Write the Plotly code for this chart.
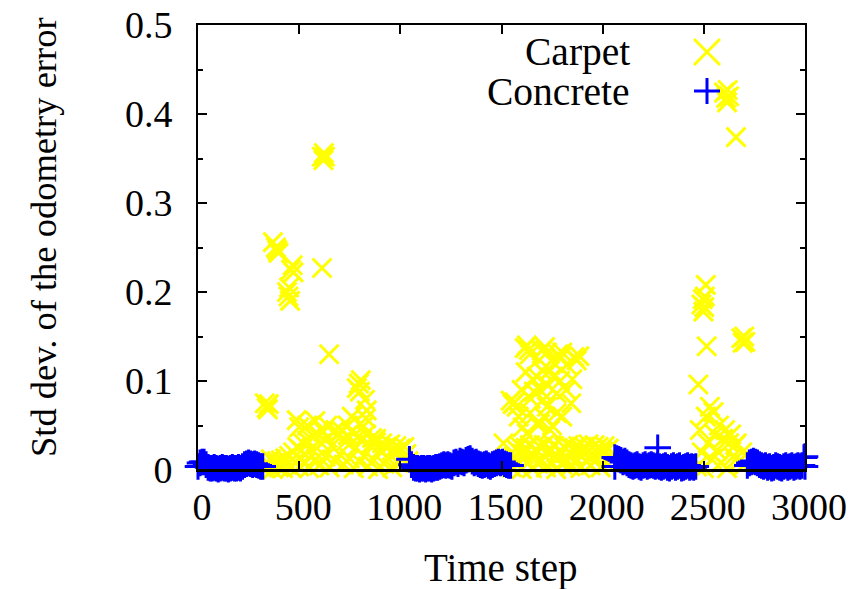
import plotly.graph_objects as go

# ---------------- data ----------------
# Concrete (blue +): time step and std dev of the odometry error
concrete_t1 = [0, 10, 20, 30, 40, 50, 60, 70, 80, 90, 100, 110, 120, 130, 140, 150, 160, 170, 180, 190,
               200, 210, 220, 230, 240, 250, 260, 270, 280, 290, 300, 310, 320]
concrete_v1 = [0.004, 0.008, 0.009, 0.009, 0.006, 0.003, 0.002, 0.002, 0.003, 0.002, 0.001, 0.002, 0.003, 0.002, 0.002, 0.001, 0.002, 0.003, 0.002, 0.002,
               0.003, 0.002, 0.004, 0.006, 0.007, 0.008, 0.007, 0.006, 0.007, 0.006, 0.005, 0.004, 0.004]

concrete_t2 = [1045, 1055, 1065, 1075, 1085, 1095, 1105, 1115, 1125, 1135, 1145, 1155, 1165, 1175, 1185, 1195, 1205, 1215, 1225, 1235,
               1245, 1255, 1265, 1275, 1285, 1295, 1305, 1315, 1325, 1335, 1345, 1355, 1365, 1375, 1385, 1395, 1405, 1415, 1425, 1435,
               1445, 1455, 1465, 1475, 1485, 1495, 1505, 1515, 1525, 1535, 1545]
concrete_v2 = [0.012, 0.006, 0.003, 0.002, 0.002, 0.001, 0.002, 0.002, 0.001, 0.002, 0.002, 0.001, 0.002, 0.003, 0.003, 0.004, 0.005, 0.006, 0.005, 0.006,
               0.005, 0.004, 0.008, 0.009, 0.007, 0.010, 0.009, 0.008, 0.011, 0.012, 0.013, 0.010, 0.008, 0.009, 0.007, 0.006, 0.005, 0.006, 0.007, 0.005,
               0.004, 0.006, 0.007, 0.008, 0.009, 0.008, 0.009, 0.007, 0.006, 0.005, 0.005]

concrete_t3 = [2060, 2060, 2070, 2080, 2090, 2100, 2110, 2120, 2130, 2140, 2150, 2160, 2170, 2180, 2190, 2200, 2210, 2220, 2230, 2240,
               2250, 2260, 2270, 2272, 2280, 2290, 2300, 2310, 2320, 2330, 2340, 2350, 2360, 2370, 2380, 2390, 2400, 2410, 2420, 2430,
               2440, 2450, 2460]
concrete_v3 = [0.014, 0.004, 0.013, 0.012, 0.011, 0.009, 0.010, 0.008, 0.006, 0.005, 0.004, 0.005, 0.006, 0.004, 0.003, 0.005, 0.006, 0.004, 0.005, 0.006,
               0.005, 0.004, 0.005, 0.025, 0.004, 0.003, 0.004, 0.005, 0.003, 0.002, 0.004, 0.005, 0.003, 0.004, 0.005, 0.002, 0.003, 0.004, 0.005, 0.003,
               0.004, 0.003, 0.004]

concrete_t4 = [2715, 2725, 2735, 2745, 2755, 2765, 2775, 2785, 2795, 2805, 2815, 2825, 2835, 2845, 2855, 2865, 2875, 2885, 2895, 2905,
               2915, 2925, 2935, 2945, 2955, 2965, 2975, 2985, 2995, 3000, 3000]
concrete_v4 = [0.005, 0.008, 0.009, 0.010, 0.009, 0.008, 0.006, 0.005, 0.004, 0.005, 0.003, 0.004, 0.002, 0.003, 0.005, 0.004, 0.003, 0.002, 0.004, 0.005,
               0.003, 0.004, 0.005, 0.003, 0.004, 0.005, 0.004, 0.005, 0.014, 0.015, 0.004]

# Carpet (yellow x)
carpet_t1 = [330, 340, 350, 360, 370, 380, 390, 400, 410, 420, 430, 440, 450, 460, 470, 480, 490, 500, 510, 520,
             530, 540, 550, 560, 570, 580, 590, 600, 610, 620, 630, 640, 650, 660, 670, 680, 690, 700, 710, 720,
             730, 740, 750, 760, 770, 780, 790, 800, 810, 820, 830, 840, 850, 860, 870, 880, 890, 900, 910, 920,
             930, 940, 950, 960, 970, 980, 990, 1000, 1010, 1020, 1030, 1040]
carpet_v1 = [0.002, 0.009, 0.004, 0.012, 0.001, 0.007, 0.010, 0.003, 0.011, 0.002, 0.013, 0.006, 0.016, 0.003, 0.020, 0.009, 0.026, 0.004, 0.022, 0.030,
             0.008, 0.033, 0.002, 0.024, 0.038, 0.012, 0.041, 0.005, 0.030, 0.043, 0.015, 0.036, 0.003, 0.027, 0.042, 0.010, 0.040, 0.018, 0.044, 0.006,
             0.032, 0.039, 0.013, 0.043, 0.002, 0.025, 0.037, 0.009, 0.034, 0.016, 0.040, 0.004, 0.028, 0.036, 0.011, 0.031, 0.001, 0.022, 0.030, 0.007,
             0.026, 0.013, 0.029, 0.003, 0.020, 0.027, 0.008, 0.024, 0.012, 0.026, 0.018, 0.010]

carpet_t1_out = [330, 340, 350, 345, 370, 385, 392, 398, 440, 447, 455, 450, 460, 468, 472, 613, 612, 620, 628, 622,
                 648, 785, 795, 805, 800, 825, 834, 817, 830, 488, 500, 540, 580, 640, 680, 740, 760, 880]
carpet_v1_out = [0.075, 0.070, 0.074, 0.068, 0.256, 0.250, 0.247, 0.244, 0.200, 0.195, 0.190, 0.205, 0.225, 0.230, 0.222, 0.227, 0.352, 0.348, 0.352, 0.356,
                 0.130, 0.092, 0.097, 0.101, 0.088, 0.079, 0.067, 0.049, 0.058, 0.056, 0.048, 0.050, 0.055, 0.050, 0.045, 0.050, 0.060, 0.035]

carpet_t2 = [1550, 1560, 1570, 1580, 1590, 1600, 1610, 1620, 1630, 1640, 1650, 1660, 1670, 1680, 1690, 1700, 1710, 1720, 1730, 1740,
             1750, 1760, 1770, 1780, 1790, 1800, 1810, 1820, 1830, 1840, 1850, 1860, 1870, 1880, 1890, 1900, 1910, 1920, 1930, 1940,
             1950, 1960, 1970, 1980, 1990, 2000, 2010, 2020, 2030, 2040]
carpet_v2 = [0.003, 0.015, 0.024, 0.006, 0.027, 0.001, 0.018, 0.025, 0.009, 0.028, 0.002, 0.016, 0.023, 0.007, 0.026, 0.011, 0.028, 0.003, 0.019, 0.024,
             0.008, 0.027, 0.001, 0.014, 0.022, 0.006, 0.026, 0.012, 0.028, 0.004, 0.017, 0.025, 0.009, 0.027, 0.002, 0.020, 0.026, 0.010, 0.029, 0.005,
             0.018, 0.028, 0.012, 0.026, 0.003, 0.021, 0.027, 0.008, 0.024, 0.015]

carpet_t2_out = [1545, 1555, 1565, 1575, 1615, 1625, 1635, 1640, 1700, 1715, 1725, 1780, 1790, 1800, 1860, 1872, 1885,
                 1657, 1674, 1756, 1823, 1740, 1641, 1707, 1724, 1773, 1773, 1690, 1625, 1674, 1740, 1800, 1660, 1690, 1510,
                 1600, 1620, 1645, 1700, 1730, 1760, 1790, 1820, 1845, 1850, 1710, 1750, 1585, 1605]
carpet_v2_out = [0.078, 0.074, 0.076, 0.071, 0.137, 0.140, 0.135, 0.130, 0.134, 0.138, 0.132, 0.130, 0.126, 0.132, 0.127, 0.123, 0.128,
                 0.101, 0.105, 0.105, 0.118, 0.112, 0.064, 0.079, 0.071, 0.086, 0.064, 0.052, 0.041, 0.052, 0.045, 0.060, 0.088, 0.090, 0.030,
                 0.090, 0.110, 0.080, 0.112, 0.095, 0.120, 0.100, 0.090, 0.075, 0.102, 0.060, 0.050, 0.060, 0.048]

carpet_t3 = [2466, 2473, 2480, 2490, 2500, 2510, 2520, 2530, 2540, 2548, 2555, 2565, 2575, 2585, 2595, 2605, 2615, 2625,
             2635, 2645, 2655, 2663, 2675, 2690, 2700]
carpet_v3 = [0.004, 0.096, 0.045, 0.020, 0.002, 0.060, 0.030, 0.071, 0.012, 0.065, 0.040, 0.022, 0.050, 0.008, 0.035, 0.045, 0.002, 0.030,
             0.040, 0.015, 0.028, 0.030, 0.010, 0.020, 0.006]

carpet_t3_out = [2514, 2488, 2495, 2502, 2498, 2505, 2510, 2685, 2692, 2700, 2705, 2600, 2610, 2618, 2625, 2615, 2659]
carpet_v3_out = [0.139, 0.186, 0.192, 0.183, 0.178, 0.195, 0.208, 0.148, 0.143, 0.150, 0.144, 0.424, 0.418, 0.427, 0.420, 0.413, 0.374]

x_ticks = [0, 500, 1000, 1500, 2000, 2500, 3000]
y_ticks = [0, 0.1, 0.2, 0.3, 0.4, 0.5]
y_ticktext = ["0", "0.1", "0.2", "0.3", "0.4", "0.5"]
y_minor = [0.05, 0.15, 0.25, 0.35, 0.45]

# ---------------- figure ----------------
YELLOW = "#FFFF00"
BLUE = "#0000FF"
FONT = "Liberation Serif, Times New Roman, Times, serif"
FS = 38

carpet_t = carpet_t1 + carpet_t1_out + carpet_t2 + carpet_t2_out + carpet_t3 + carpet_t3_out
carpet_v = carpet_v1 + carpet_v1_out + carpet_v2 + carpet_v2_out + carpet_v3 + carpet_v3_out
concrete_t = concrete_t1 + concrete_t2 + concrete_t3 + concrete_t4
concrete_v = concrete_v1 + concrete_v2 + concrete_v3 + concrete_v4

fig = go.Figure()
fig.add_trace(go.Scatter(
    x=carpet_t, y=carpet_v, mode="markers", name="Carpet", cliponaxis=False,
    marker=dict(symbol="x-thin", size=19, color=YELLOW, line=dict(color=YELLOW, width=3)),
    hoverinfo="skip"))
fig.add_trace(go.Scatter(
    x=concrete_t, y=concrete_v, mode="markers", name="Concrete", cliponaxis=False,
    marker=dict(symbol="cross-thin", size=19, color=BLUE, line=dict(color=BLUE, width=3)),
    hoverinfo="skip"))

W, H = 863, 589
# plot box in window pixels: x 198..805, y 25..470
L, T = 198, 25
R = W - 805
B = H - 470
pw, ph = W - L - R, H - T - B

def px(xs):
    return (xs - L) / pw

def py(ys):
    return (H - B - ys) / ph

shapes = [
    dict(type="line", xref="paper", yref="y", x0=0, x1=1, y0=0, y1=0,
         line=dict(color="black", width=2), layer="above"),
]
# legend samples
hx, hy = 13 / pw, 13 / ph
cx = px(707)
cy1, cy2 = py(52), py(91)
shapes += [
    dict(type="line", xref="paper", yref="paper", x0=cx - hx, x1=cx + hx, y0=cy1 - hy, y1=cy1 + hy, line=dict(color=YELLOW, width=3)),
    dict(type="line", xref="paper", yref="paper", x0=cx - hx, x1=cx + hx, y0=cy1 + hy, y1=cy1 - hy, line=dict(color=YELLOW, width=3)),
    dict(type="line", xref="paper", yref="paper", x0=cx - hx, x1=cx + hx, y0=cy2, y1=cy2, line=dict(color=BLUE, width=3)),
    dict(type="line", xref="paper", yref="paper", x0=cx, x1=cx, y0=cy2 - hy, y1=cy2 + hy, line=dict(color=BLUE, width=3)),
]

tf = dict(family=FONT, size=FS, color="black")
lf = dict(family=FONT, size=39.5, color="black")
yf = dict(family=FONT, size=36.5, color="black")
xf = dict(family=FONT, size=39, color="black")
annotations = [
    dict(text="Carpet", xref="paper", yref="paper", x=px(632), y=py(52), xanchor="right", yanchor="middle",
         showarrow=False, font=lf),
    dict(text="Concrete", xref="paper", yref="paper", x=px(632), y=py(92), xanchor="right", yanchor="middle",
         showarrow=False, font=lf),
    dict(text="Std dev. of the odometry error", xref="paper", yref="paper", x=px(43), y=py(237),
         xanchor="center", yanchor="middle", textangle=-90, showarrow=False, font=yf),
    dict(text="Time step", xref="paper", yref="paper", x=px(501), y=py(568),
         xanchor="center", yanchor="middle", showarrow=False, font=xf),
]

fig.update_layout(
    width=W, height=H,
    margin=dict(l=L, r=R, t=T, b=B, pad=0),
    plot_bgcolor="white", paper_bgcolor="white",
    showlegend=False,
    font=tf,
    shapes=shapes, annotations=annotations,
)
fig.update_xaxes(
    range=[0, 3000], tickvals=x_ticks, ticktext=[str(v) for v in x_ticks],
    ticks="inside", ticklen=9, tickwidth=1.5, tickcolor="black",
    showline=True, linewidth=1.5, linecolor="black", mirror="ticks",
    showgrid=False, zeroline=False, ticklabelstandoff=3, ticklabelshift=4,
    ticklabeloverflow="allow", tickfont=tf, automargin=False,
)
fig.update_yaxes(
    range=[0, 0.5], tickvals=y_ticks, ticktext=y_ticktext,
    ticks="inside", ticklen=9, tickwidth=1.5, tickcolor="black",
    minor=dict(tickvals=y_minor, ticks="inside", ticklen=5, tickwidth=1.5, tickcolor="black"),
    showline=True, linewidth=2, linecolor="black", mirror="ticks",
    showgrid=False, zeroline=False, ticklabelstandoff=16,
    ticklabeloverflow="allow", tickfont=tf, automargin=False,
)

# remove the default page margin so the figure fills the 863x589 window exactly
fig.write_html("out.html", config={"displayModeBar": False},
               post_script="document.body.style.margin='0';document.body.style.overflow='hidden';")
